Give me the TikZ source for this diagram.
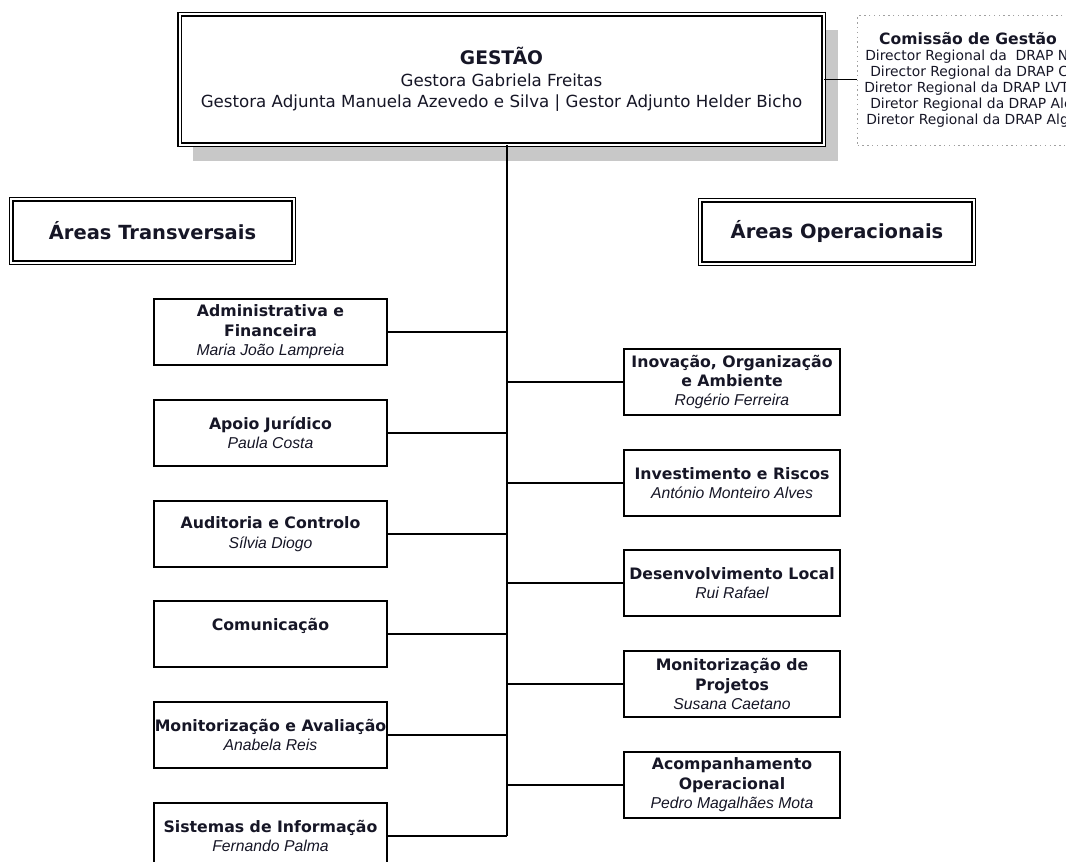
\documentclass[tikz,border=0pt]{standalone}
\usepackage{fontspec}
\setmainfont{DejaVu Sans}
\newfontfamily\namefont{Liberation Sans}
\usepackage{tikz}
\usetikzlibrary{backgrounds}
\definecolor{shadowc}{HTML}{C8C8C8}
\definecolor{dotc}{HTML}{A0A0A0}
\definecolor{inkc}{HTML}{161626}
\colorlet{textcolor}{inkc}
\newcommand{\who}[1]{{\namefont\itshape #1}}
\tikzstyle{topbox} = [
    draw,
    double,
    double distance=1.5pt,
    line width=1.1pt,
    fill=white,
    rectangle,
    minimum width=483pt,
    minimum height=97.6pt,
    align=center,
    text=textcolor,
    font=\fontsize{12.5}{16}\selectfont
    ]
\tikzstyle{areahead} = [
    draw,
    double,
    double distance=1.5pt,
    line width=1.1pt,
    fill=white,
    rectangle,
    minimum height=47.3pt,
    text=textcolor,
    font=\fontsize{14.6}{17}\selectfont\bfseries
    ]
\tikzstyle{unitbox} = [
    draw,
    line width=1.3pt,
    fill=white,
    rectangle,
    minimum height=49.8pt,
    inner xsep=0pt,
    inner ysep=2pt,
    align=center,
    text=textcolor,
    font=\fontsize{11.8}{14.6}\selectfont
    ]
\tikzstyle{leftunit} = [unitbox, minimum width=174.75pt]
\tikzstyle{rightunit} = [unitbox, minimum width=162.3pt]
\tikzstyle{comline} = [anchor=west, inner sep=0pt, text=textcolor,
    font=\fontsize{10.4}{12}\selectfont]
\tikzstyle{link} = [draw, line width=1.1pt]

\begin{document}
\begin{tikzpicture}[x=0.75pt,y=-0.75pt]
\useasboundingbox (0,0) rectangle (1066,862);
\clip (0,0) rectangle (1066,862);

% management
\node [topbox] (gestao) at (501.5,79.5) {%
    {\fontsize{14}{16}\selectfont\bfseries GESTÃO}\\
    Gestora Gabriela Freitas\\
    Gestora Adjunta Manuela Azevedo e Silva | Gestor Adjunto Helder Bicho};
\begin{scope}[on background layer]
\fill [shadowc] ([shift={(14,16)}]gestao.north west) rectangle ([shift={(14,16)}]gestao.south east);
\end{scope}

\node [draw=dotc, line width=1pt, dash pattern=on 1pt off 2.6pt, rectangle,
    anchor=north west, minimum width=190pt, minimum height=97.5pt] (comissao) at (857,15) {};
\node [text=textcolor, font=\fontsize{11.7}{14}\selectfont\bfseries] (comtitle) at (968,39) {Comissão de Gestão};
\node [comline] (drapn) at (865,57) {Director Regional da~ DRAP Norte};
\node [comline] (drapc) at (870,73) {Director Regional da DRAP Centro};
\node [comline] (drapl) at (864,89) {Diretor Regional da DRAP LVT};
\node [comline] (drapa) at (870,105) {Diretor Regional da DRAP Alentejo};
\node [comline] (drapg) at (866,121) {Diretor Regional da DRAP Algarve};

\node [areahead, minimum width=211.6pt] (transv) at (152.5,231) {Áreas Transversais};
\node [areahead, minimum width=205pt] (operac) at (837,232) {Áreas Operacionais};

% transversal areas
\node [leftunit] (adm) at (270.5,332) {\textbf{Administrativa e}\\\textbf{Financeira}\\\who{Maria João Lampreia}};
\node [leftunit] (jur) at (270.5,433) {\textbf{Apoio Jurídico}\\\who{Paula Costa}};
\node [leftunit] (aud) at (270.5,534) {\textbf{Auditoria e Controlo}\\\who{Sílvia Diogo}};
\node [leftunit] (com) at (270.5,634) {\textbf{Comunicação}\\\mbox{}};
\node [leftunit] (mav) at (270.5,735) {\textbf{Monitorização e Avaliação}\\\who{Anabela Reis}};
\node [leftunit] (sis) at (270.5,836) {\textbf{Sistemas de Informação}\\\who{Fernando Palma}};

% operational areas
\node [rightunit] (ino) at (732,382) {\textbf{Inovação, Organização}\\\textbf{e Ambiente}\\\who{Rogério Ferreira}};
\node [rightunit] (inv) at (732,483) {\textbf{Investimento e Riscos}\\\who{António Monteiro Alves}};
\node [rightunit] (des) at (732,583) {\textbf{Desenvolvimento Local}\\\who{Rui Rafael}};
\node [rightunit] (mpr) at (732,684) {\textbf{Monitorização de}\\\textbf{Projetos}\\\who{Susana Caetano}};
\node [rightunit] (aco) at (732,785) {\textbf{Acompanhamento}\\\textbf{Operacional}\\\who{Pedro Magalhães Mota}};

% connectors
\coordinate (spinebase) at (507,836);
\draw [link] (gestao.east) -- (gestao.east -| comissao.west);
\draw [link] (gestao.south -| spinebase) -- (spinebase);
\draw [link] (adm.east) -- (adm.east -| spinebase);
\draw [link] (jur.east) -- (jur.east -| spinebase);
\draw [link] (aud.east) -- (aud.east -| spinebase);
\draw [link] (com.east) -- (com.east -| spinebase);
\draw [link] (mav.east) -- (mav.east -| spinebase);
\draw [link] (sis.east) -- (sis.east -| spinebase);
\draw [link] (ino.west) -- (ino.west -| spinebase);
\draw [link] (inv.west) -- (inv.west -| spinebase);
\draw [link] (des.west) -- (des.west -| spinebase);
\draw [link] (mpr.west) -- (mpr.west -| spinebase);
\draw [link] (aco.west) -- (aco.west -| spinebase);
\end{tikzpicture}
\end{document}
